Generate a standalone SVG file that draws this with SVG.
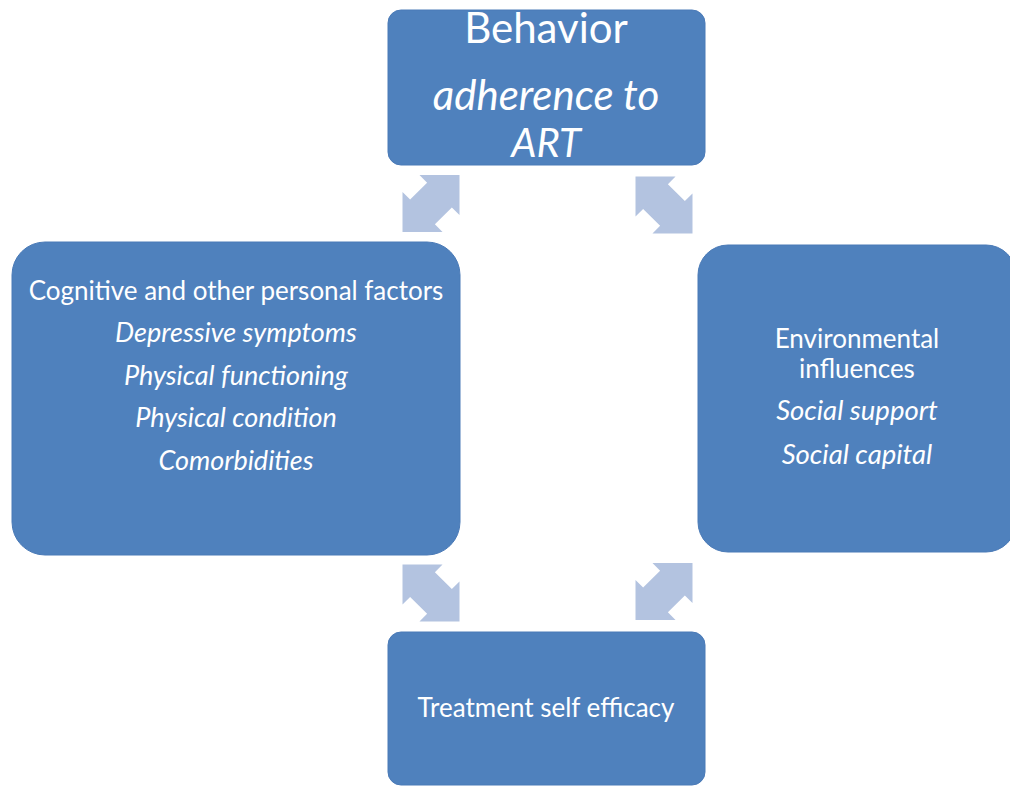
<svg xmlns="http://www.w3.org/2000/svg" width="1010" height="786" viewBox="0 0 1010 786">
<style>
.box{fill:#4F81BD;stroke:#4A7AB7;stroke-width:1}
.t{fill:#FFFFFF;font-family:Lato,"Open Sans","Liberation Sans",sans-serif;text-anchor:middle}
.i{font-style:italic}
.arr{fill:#B3C3E0}
</style>
<defs>
<polygon id="dbl" points="40.3,0 12,-28.3 12,-17.5 -12,-17.5 -12,-28.3 -40.3,0 -12,28.3 -12,17.5 12,17.5 12,28.3"/>
</defs>
<rect width="1010" height="786" fill="#FFFFFF"/>
<g id="connectors">
<use href="#dbl" class="arr" transform="translate(431,203.5) rotate(-45)"/>
<use href="#dbl" class="arr" transform="translate(664,205) rotate(45)"/>
<use href="#dbl" class="arr" transform="translate(431,593) rotate(45)"/>
<use href="#dbl" class="arr" transform="translate(664,591.5) rotate(-45)"/>
</g>
<g id="behavior">
<rect class="box" x="388" y="10" width="317" height="155" rx="13"/>
<text class="t" x="546" y="43" font-size="42">Behavior</text>
<text class="t i" x="546" y="110" font-size="42">adherence to</text>
<text class="t i" x="546" y="157" font-size="40">ART</text>
</g>
<g id="personal">
<rect class="box" x="12" y="242" width="448" height="313" rx="33"/>
<text class="t" x="236" y="300" font-size="26">Cognitive and other personal factors</text>
<text class="t i" x="236" y="342" font-size="27">Depressive symptoms</text>
<text class="t i" x="236" y="385" font-size="27">Physical functioning</text>
<text class="t i" x="236" y="427" font-size="27">Physical condition</text>
<text class="t i" x="236" y="470" font-size="27">Comorbidities</text>
</g>
<g id="environment">
<rect class="box" x="698" y="245" width="318" height="307" rx="30"/>
<text class="t" x="857" y="348" font-size="26">Environmental</text>
<text class="t" x="857" y="378" font-size="26">influences</text>
<text class="t i" x="857" y="420" font-size="27.5">Social support</text>
<text class="t i" x="857" y="464" font-size="27.5">Social capital</text>
</g>
<g id="selfefficacy">
<rect class="box" x="388" y="632" width="317" height="153" rx="13"/>
<text class="t" x="546" y="717" font-size="26">Treatment self efficacy</text>
</g>
</svg>
